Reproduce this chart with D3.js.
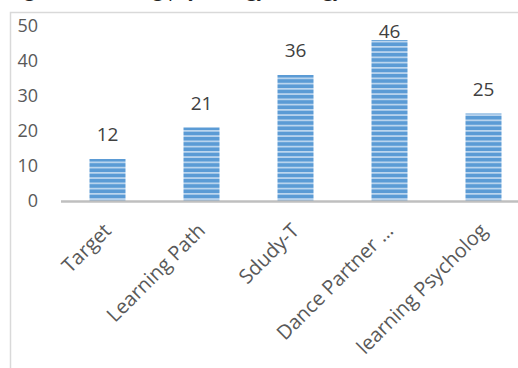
<!DOCTYPE html>
<html><head><meta charset="utf-8">
<script src="https://cdn.jsdelivr.net/npm/d3@7"></script>
<style>body{margin:0;background:#fff;overflow:hidden}svg{display:block}</style>
</head><body>
<svg id="c" width="518" height="368"></svg>
<script>
const title = "Figure 3 Learning psychology strategy";
const categories = ["Target", "Learning Path", "Sdudy-T", "Dance Partner …", "learning Psycholog"];
const values = [12, 21, 36, 46, 25];
const yTicks = [0, 10, 20, 30, 40, 50];

const svg = d3.select("#c");
const font = "'Open Sans', sans-serif";

const defs = svg.append("defs");
const pat = defs.append("pattern").attr("id", "stripes")
  .attr("patternUnits", "userSpaceOnUse").attr("width", 10).attr("height", 5.25)
  .attr("y", 0.5);
pat.append("rect").attr("width", 10).attr("height", 5.25).attr("fill", "#5b9bd5");
pat.append("rect").attr("y", 3.6).attr("width", 10).attr("height", 1.5).attr("fill", "#c9def2");

// clipped title (only descenders visible, as in the reference)
svg.append("text").attr("x", 10).attr("y", -3).text(title)
  .attr("font-family", font).attr("font-size", 19).attr("fill", "#222");

svg.append("rect").attr("x", 10.5).attr("y", 12.5).attr("width", 600).attr("height", 500)
  .attr("fill", "none").attr("stroke", "#d9d9d9").attr("stroke-width", 1.5);

const y = d3.scaleLinear().domain([0, 50]).range([201, 26]);
const x = d3.scaleBand().domain(categories).range([60.5, 530.5]).paddingInner(0.617).paddingOuter(0.3085);

const yAxis = d3.axisLeft(y).tickValues(yTicks).tickSize(0).tickPadding(0);
const ya = svg.append("g").attr("transform", "translate(38,0)").call(yAxis);
ya.select(".domain").remove();
ya.selectAll("text").attr("font-family", font).attr("font-size", 18).attr("fill", "#595959");

svg.append("g").selectAll("rect").data(values).join("rect")
  .attr("x", (d, i) => x(categories[i]))
  .attr("width", x.bandwidth())
  .attr("y", d => y(d))
  .attr("height", d => y(0) - y(d))
  .attr("fill", "url(#stripes)");

const xAxis = d3.axisBottom(x).tickSize(0).tickFormat("");
const xa = svg.append("g").attr("transform", `translate(0,${y(0)})`).call(xAxis);
xa.select(".domain").attr("stroke", "#bfbfbf").attr("stroke-width", 2.5);

svg.append("g").selectAll("text").data(categories).join("text")
  .attr("transform", d => `translate(${x(d) + x.bandwidth() / 2 - 5},${y(0) + 21}) rotate(-45)`)
  .attr("text-anchor", "end")
  .attr("dy", "0.7em")
  .attr("font-family", font).attr("font-size", 20).attr("fill", "#595959")
  .text(d => d);

svg.append("g").selectAll("text").data(values).join("text")
  .attr("x", (d, i) => x(categories[i]) + x.bandwidth() / 2)
  .attr("y", d => Math.max(y(d) - 18, 38))
  .attr("text-anchor", "middle")
  .attr("font-family", font).attr("font-size", 19).attr("fill", "#404040")
  .text(d => d);
</script>
</body></html>
